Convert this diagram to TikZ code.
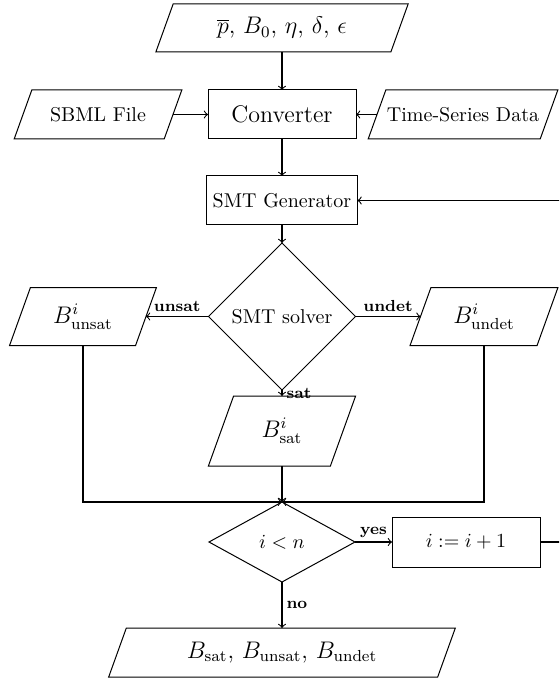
\documentclass[tikz,border=0pt]{standalone}
\usepackage{amsmath}
\usetikzlibrary{shapes.geometric,calc}

\tikzset{
  base/.style={inner sep=0pt, outer sep=0pt, align=center},
  procbox/.style={base, rectangle, draw, line width=0.5pt},
  iobox/.style={base, rectangle},
  decide/.style={base, diamond, draw, line width=0.5pt},
  lbl/.style={font=\footnotesize\bfseries, inner sep=2pt},
  arr/.style={->, line width=0.55pt},
  ioline/.style={line width=0.5pt},
}

% slanted input/output frame drawn around a named rectangle node
\newcommand\ioframe[1]{%
  \draw[ioline] let \p1=(#1.north west), \p2=(#1.south east),
    \n1={0.18*(\y1-\y2)} in
    (\x1+\n1,\y1) -- (\x2+\n1,\y1) -- (\x2-\n1,\y2) -- (\x1-\n1,\y2) -- cycle;}

\begin{document}
\begin{tikzpicture}[x=0.5pt, y=-0.5pt]
  \useasboundingbox (0,0) rectangle (559,679);
  \clip (0,0) rectangle (559,679);

  % nodes
  \node[iobox, minimum width=117.5pt, minimum height=24pt, font=\large]
    (params) at (282,28) {$\overline{p}$, $B_0$, $\eta$, $\delta$, $\epsilon$};
  \node[procbox, minimum width=74pt, minimum height=24.5pt, font=\large]
    (conv) at (282,114.5) {Converter};
  \node[iobox, minimum width=75pt, minimum height=24.5pt]
    (sbml) at (98,114.5) {SBML File};
  \node[iobox, minimum width=86pt, minimum height=24.5pt]
    (ts) at (463,114.5) {Time-Series Data};
  \node[procbox, minimum width=75.5pt, minimum height=24.5pt]
    (gen) at (282,200.5) {SMT Generator};
  \node[decide, minimum width=73.5pt, minimum height=73.5pt]
    (solver) at (282,316.5) {SMT solver};
  \node[iobox, minimum width=63pt, minimum height=29pt, font=\large]
    (unsat) at (83,316.5) {$B^i_{\mathrm{unsat}}$};
  \node[iobox, minimum width=63.5pt, minimum height=29pt, font=\large]
    (undet) at (484,316.5) {$B^i_{\mathrm{undet}}$};
  \node[iobox, minimum width=61pt, minimum height=35pt, font=\large]
    (sat) at (282,431) {$B^i_{\mathrm{sat}}$};
  \node[decide, minimum width=73pt, minimum height=40pt]
    (cond) at (282,542) {$i < n$};
  \node[procbox, minimum width=74pt, minimum height=25pt]
    (inc) at (466,542) {$i := i+1$};
  \node[iobox, minimum width=164.5pt, minimum height=24.5pt, font=\large]
    (final) at (282,652.5) {$B_{\mathrm{sat}}$, $B_{\mathrm{unsat}}$, $B_{\mathrm{undet}}$};
  \coordinate (loop) at (575,542);

  % slanted frames of the data nodes
  \ioframe{params}
  \ioframe{sbml}
  \ioframe{ts}
  \ioframe{unsat}
  \ioframe{undet}
  \ioframe{sat}
  \ioframe{final}

  % connectors
  \draw[arr] (params.south) -- (conv.north);
  \draw[arr] (sbml.east) -- (conv.west);
  \draw[arr] (ts.west) -- (conv.east);
  \draw[arr] (conv.south) -- (gen.north);
  \draw[arr] (gen.south) -- (solver.north);
  \draw[arr] (solver.west) -- node[lbl, above] {unsat} (unsat.east);
  \draw[arr] (solver.east) -- node[lbl, above] {undet} (undet.west);
  \draw[arr] (solver.south) -- node[lbl, right] {sat} (sat.north);
  \draw[arr] (unsat.south) |- (cond.north);
  \draw[arr] (undet.south) |- (cond.north);
  \draw[arr] (sat.south) -- (cond.north);
  \draw[arr] (cond.east) -- node[lbl, above] {yes} (inc.west);
  \draw[arr] (cond.south) -- node[lbl, right] {no} (final.north);
  \draw[arr] (inc.east) -- (loop) |- (gen.east);
\end{tikzpicture}
\end{document}
